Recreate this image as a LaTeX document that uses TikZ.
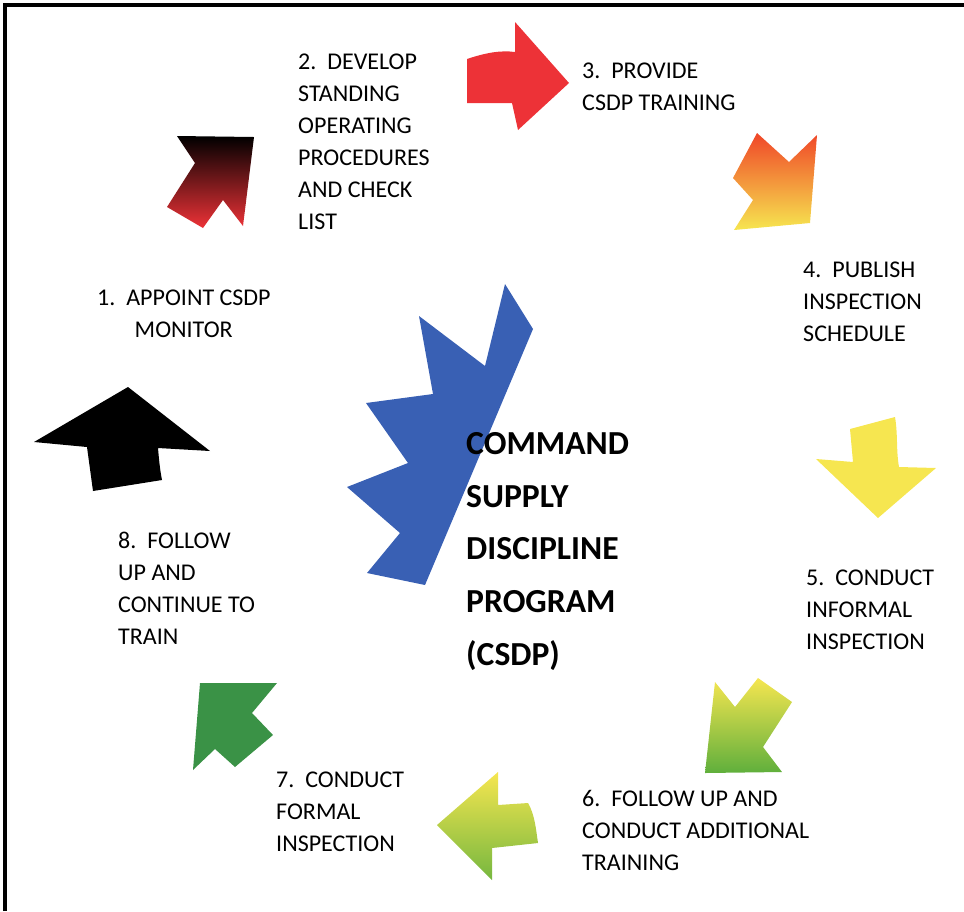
\documentclass[tikz,border=0pt]{standalone}
\usepackage{fontspec}
\setmainfont{Carlito}
\definecolor{arrowred}{RGB}{237,50,55}
\definecolor{arroworange}{RGB}{240,70,40}
\definecolor{arrowyellow}{RGB}{246,230,80}
\definecolor{arrowgreen}{RGB}{58,146,70}
\definecolor{lightgreen}{RGB}{95,175,60}
\definecolor{csdpblue}{RGB}{57,96,180}
\begin{document}
\begin{tikzpicture}[x=0.03cm,y=-0.03cm,
                steptext/.style={anchor=north west,inner sep=0pt,align=left,
                    font=\fontsize{20.5}{27.2}\selectfont},
                maintext/.style={anchor=north west,inner sep=0pt,align=left,
                    font=\fontsize{28.7}{45}\selectfont\bfseries}]
                \useasboundingbox (0,0) rectangle (964,911);
                \draw[line width=3.4pt] (5,911) -- (5,5) -- (964,5);

                \shade[top color=black,middle color=arrowred!85!black,bottom color=arrowred]
                    (177,136) -- (254,137) -- (243,226) -- (223,200) -- (203,228) -- (167,207) -- (195,163) -- cycle;
                \fill[arrowred] (467,59) .. controls (485,53) and (500,50) .. (515,52)
                    -- (515,22) -- (569,83) -- (518,130) -- (512,103) -- (467,103) -- cycle;
                \shade[top color=arroworange,middle color=arrowyellow!70!arroworange,bottom color=arrowyellow]
                    (757,133) -- (789,162) -- (817,135) -- (810,223) -- (734,230) -- (753,200) -- (733,178) -- cycle;
                \fill[arrowyellow] (850,429) -- (895,417) .. controls (898,435) and (896,450) .. (899,467)
                    -- (936,468) -- (878,518) -- (816,459) -- (853,462) -- cycle;
                \shade[top color=arrowyellow,middle color=arrowyellow!90!lightgreen,bottom color=lightgreen]
                    (715,682) -- (735,707) -- (758,678) -- (792,702) -- (763,747) -- (782,772) -- (705,773) -- cycle;
                \shade[top color=arrowyellow,middle color=arrowyellow,bottom color=lightgreen!85!arrowyellow]
                    (498,772) -- (498,805) -- (528,803) .. controls (535,815) and (536,830) .. (538,843)
                    -- (492,848) -- (492,880) -- (437,825) -- cycle;
                \fill[arrowgreen] (200,683) -- (277,683) -- (252,713) -- (273,735) -- (235,767) -- (215,749) -- (193,770) -- cycle;
                \fill[black] (128,387) -- (210,451) -- (158,448) .. controls (159,460) and (160,470) .. (162,480)
                    -- (93,491) -- (87,447) -- (34,442) -- cycle;

                \fill[csdpblue] (505,284) -- (533,329) -- (425,585) -- (367,573) -- (400,533) -- (347,487)
                    -- (408,463) -- (366,403) -- (433,394) -- (419,316) -- (485,366) -- cycle;

                \node[steptext] (appoint) at (97,290) {1.~~APPOINT CSDP\\\hspace*{32pt}MONITOR};
                \node[steptext] (develop) at (298,54) {2.~~DEVELOP\\STANDING\\OPERATING\\PROCEDURES\\AND CHECK\\LIST};
                \node[steptext] (provide) at (582,63) {3.~~PROVIDE\\CSDP TRAINING};
                \node[steptext] (publish) at (803,262) {4.~~PUBLISH\\INSPECTION\\SCHEDULE};
                \node[steptext] (informal) at (806,570) {5.~~CONDUCT\\INFORMAL\\INSPECTION};
                \node[steptext] (additional) at (582,790) {6.~~FOLLOW UP AND\\CONDUCT ADDITIONAL\\TRAINING};
                \node[steptext] (formal) at (276,772) {7.~~CONDUCT\\FORMAL\\INSPECTION};
                \node[steptext] (followup) at (118,532) {8.~~FOLLOW\\UP AND\\CONTINUE TO\\TRAIN};

                \node[maintext] (csdp) at (466,432) {COMMAND\\SUPPLY\\DISCIPLINE\\PROGRAM\\(CSDP)};
            \end{tikzpicture}
\end{document}
